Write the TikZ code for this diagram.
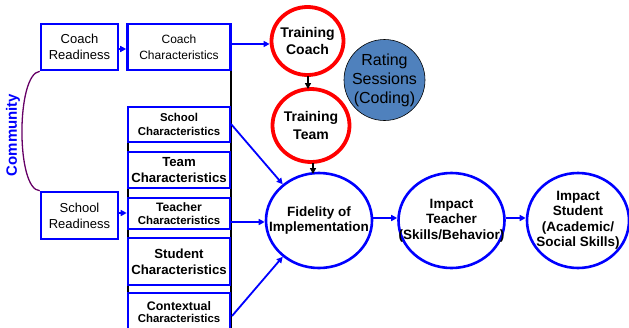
\documentclass[tikz,border=0pt]{standalone}
\usepackage{fontspec}
\setmainfont{Liberation Sans}
\usetikzlibrary{shapes.geometric,arrows.meta}
\newcommand\myfs[2]{\fontsize{#1}{#2}\selectfont}
\definecolor{ratefill}{HTML}{4F81BD}
\begin{document}
\begin{tikzpicture}[x=1pt,y=-1pt,
  bluebox/.style={draw=blue,line width=2.6pt,fill=white,inner sep=0pt,align=center,rectangle},
  redcirc/.style={ellipse,draw=red,line width=3.8pt,fill=white,inner sep=0pt},
  bluecirc/.style={ellipse,draw=blue,line width=2.6pt,fill=white,inner sep=0pt},
  ctext/.style={align=center,inner sep=0pt,font=\myfs{13.5}{15.5}\bfseries},
  barr/.style={draw=blue,line width=1.8pt,-{Triangle[length=6pt,width=6pt]}},
  karr/.style={draw=black,line width=1.6pt,-{Triangle[length=6pt,width=6pt]}},
  frame/.style={draw=black,line width=1.8pt}]
\useasboundingbox (0,0) rectangle (629,327);
% black frame of the characteristics column
\draw[frame] (231,24) -- (231,340);
\draw[frame] (128,106) -- (128,340);
% boxes
\node[bluebox,minimum width=77pt,minimum height=46pt,font=\myfs{13}{16}] (crd) at (79.5,47) {Coach\\Readiness};
\node[bluebox,minimum width=77pt,minimum height=47pt,font=\myfs{13}{16}] (srd) at (79.5,215.5) {School\\Readiness};
\node[bluebox,minimum width=103pt,minimum height=46pt,font=\myfs{12}{16}] (cch) at (179,47) {Coach\\Characteristics};
\node[bluebox,minimum width=102pt,minimum height=35pt,font=\myfs{11.4}{14}\bfseries] (sch) at (179,124.5) {School\\Characteristics};
\node[bluebox,minimum width=102pt,minimum height=36pt,font=\myfs{13.2}{16}\bfseries] (tmc) at (179,170) {Team\\Characteristics};
\node[bluebox,minimum width=102pt,minimum height=31pt,font=\myfs{11.4}{12.5}\bfseries] (tec) at (179,213.5) {{\myfs{12.2}{12.5}Teacher}\\Characteristics};
\node[bluebox,minimum width=102pt,minimum height=47pt,font=\myfs{13.2}{16}\bfseries] (stc) at (179,261.5) {Student\\Characteristics};
\node[bluebox,minimum width=102pt,minimum height=38pt,font=\myfs{11.4}{12.5}\bfseries] (coc) at (179,312) {{\myfs{12.4}{12.5}Contextual}\\Characteristics};
% circles
\node[redcirc,minimum width=72pt,minimum height=68pt] (tc) at (307.5,41) {};
\node[ctext,font=\myfs{14}{17}\bfseries] (tct) at (tc.center) {Training\\Coach};
\node[redcirc,minimum width=77pt,minimum height=73pt] (tt) at (311,125.5) {};
\node[ctext,font=\myfs{14}{18}\bfseries] (ttt) at (tt.center) {Training\\Team};
\node[circle,draw=black,line width=0.6pt,fill=ratefill,minimum size=81pt,inner sep=0pt] (rs) at (384.5,80) {};
\node[align=center,inner sep=0pt,font=\myfs{16}{19}] (rst) at (rs.center) {Rating\\Sessions\\(Coding)};
\node[bluecirc,minimum width=106pt,minimum height=95pt] (fid) at (319,220.5) {};
\node[ctext] (fidt) at (fid.center) {Fidelity of\\Implementation};
\node[bluecirc,minimum width=106pt,minimum height=95pt] (it) at (451.5,220.5) {};
\node[ctext] (itt) at (it.center) {Impact\\Teacher\\(Skills/Behavior)};
\node[bluecirc,minimum width=102pt,minimum height=95pt] (is) at (578,220.5) {};
\node[ctext] (ist) at (is.center) {Impact\\Student\\(Academic/\\Social Skills)};
% arrows
\draw[barr] (crd.east |- 0,49) -- (cch.west |- 0,49);
\draw[barr] (srd.east |- 0,213) -- (tec.west |- 0,213);
\draw[barr] (cch.east |- 0,44) -- (tc.west |- 0,44);
\draw[barr] (231,124) -- (fid.135);
\draw[barr] (tec.east |- 0,222) -- (fid.west |- 0,222);
\draw[barr] (232,316) -- (fid.225);
\draw[barr] (fid.east |- 0,218) -- (it.west |- 0,218);
\draw[barr] (it.east |- 0,218) -- (is.west |- 0,218);
\draw[karr] (308,76) -- (308,89);
\draw[karr] (313,163) -- (313,174);
% community bracket
\draw[draw=violet!80!black,line width=1.3pt] (crd.south west) .. controls (16,74) and (16,190) .. (srd.north west);
\node[rotate=90,text=blue,font=\myfs{15}{17}\bfseries,inner sep=0pt] (comm) at (13,135) {Community};
\end{tikzpicture}
\end{document}
